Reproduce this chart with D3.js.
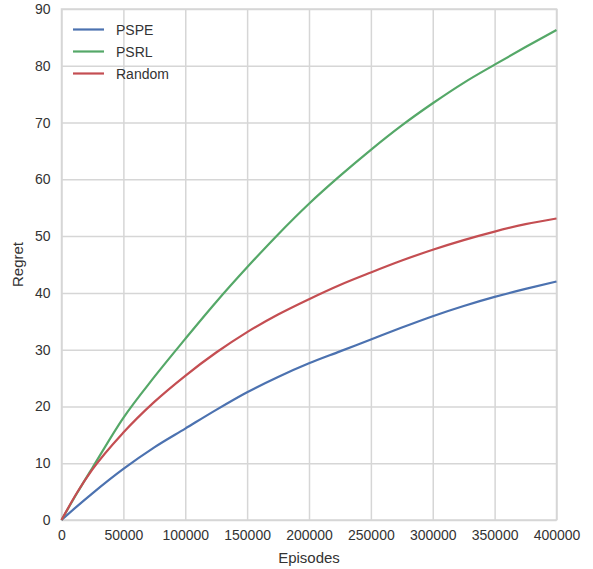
<!DOCTYPE html>
<html>
<head>
<meta charset="utf-8">
<script src="https://cdn.jsdelivr.net/npm/d3@7"></script>
<style>
  body { margin: 0; background: #fff; }
  svg { font-family: "Liberation Sans", Arial, sans-serif; }
</style>
</head>
<body>
<svg width="593" height="569"></svg>
<script>
let episodes = [0, 12500, 25000, 50000, 75000, 100000, 125000, 150000, 175000, 200000,
  225000, 250000, 275000, 300000, 325000, 350000, 375000, 400000];
let pspe = [0, 2.4, 4.7, 9.0, 12.8, 16.1, 19.4, 22.5, 25.2, 27.6, 29.7, 31.8, 33.9, 35.9, 37.7, 39.3, 40.7, 42.0];
let psrl = [0, 4.7, 9.2, 18.0, 25.2, 31.9, 38.4, 44.5, 50.3, 55.7, 60.6, 65.2, 69.5, 73.4, 77.0, 80.2, 83.3, 86.3];
let random = [0, 4.8, 8.9, 15.4, 20.8, 25.4, 29.5, 33.1, 36.2, 38.9, 41.4, 43.6, 45.7, 47.6, 49.3, 50.8, 52.1, 53.1];

let seriesNames = ['PSPE', 'PSRL', 'Random'];
let colors = ['#4c72b0', '#55a868', '#c44e52'];
let xTicks = [0, 50000, 100000, 150000, 200000, 250000, 300000, 350000, 400000];
let yTicks = [0, 10, 20, 30, 40, 50, 60, 70, 80, 90];

let svg = d3.select('svg');
let plotLeft = 61.5, plotRight = 556.5, plotTop = 9, plotBottom = 520;

let x = d3.scaleLinear().domain([0, 400000]).range([plotLeft, plotRight]);
let y = d3.scaleLinear().domain([0, 90]).range([plotBottom, plotTop]);

// grid
svg.append('g')
  .attr('transform', `translate(0, ${plotBottom})`)
  .call(d3.axisBottom(x).tickValues(xTicks).tickSize(-(plotBottom - plotTop)).tickFormat(d => d).tickPadding(10))
  .call(g => g.select('.domain').remove())
  .call(g => g.selectAll('line').attr('stroke', '#d6d6d6').attr('stroke-width', 1.5))
  .call(g => g.selectAll('text').attr('fill', '#333').style('font-size', '14px'));

svg.append('g')
  .attr('transform', `translate(${plotLeft}, 0)`)
  .call(d3.axisLeft(y).tickValues(yTicks).tickSize(-(plotRight - plotLeft)).tickPadding(11))
  .call(g => g.select('.domain').remove())
  .call(g => g.selectAll('line').attr('stroke', '#d6d6d6').attr('stroke-width', 1.5))
  .call(g => g.selectAll('text').attr('fill', '#333').style('font-size', '14px'));

svg.selectAll('g').attr('font-family', null);

svg.append('rect')
  .attr('x', plotLeft).attr('y', plotTop)
  .attr('width', plotRight - plotLeft).attr('height', plotBottom - plotTop)
  .attr('fill', 'none').attr('stroke', '#d6d6d6').attr('stroke-width', 1.5);

let line = d3.line()
  .x((d, i) => x(episodes[i]))
  .y(d => y(d))
  .curve(d3.curveMonotoneX);

[pspe, psrl, random].forEach((s, i) => {
  svg.append('path')
    .attr('d', line(s))
    .attr('fill', 'none')
    .attr('stroke', colors[i])
    .attr('stroke-width', 2.2);
});

// legend
seriesNames.forEach((name, i) => {
  let ly = 29.5 + i * 22;
  svg.append('line')
    .attr('x1', 73).attr('x2', 104).attr('y1', ly).attr('y2', ly)
    .attr('stroke', colors[i]).attr('stroke-width', 2.2);
  svg.append('text')
    .attr('x', 116).attr('y', ly + 5)
    .attr('fill', '#333').style('font-size', '14px')
    .text(name);
});

svg.append('text')
  .attr('x', (plotLeft + plotRight) / 2).attr('y', 563)
  .attr('text-anchor', 'middle').attr('fill', '#333').style('font-size', '15px')
  .text('Episodes');

svg.append('text')
  .attr('transform', `translate(23, ${(plotTop + plotBottom) / 2}) rotate(-90)`)
  .attr('text-anchor', 'middle').attr('fill', '#333').style('font-size', '15px')
  .text('Regret');
</script>
</body>
</html>
